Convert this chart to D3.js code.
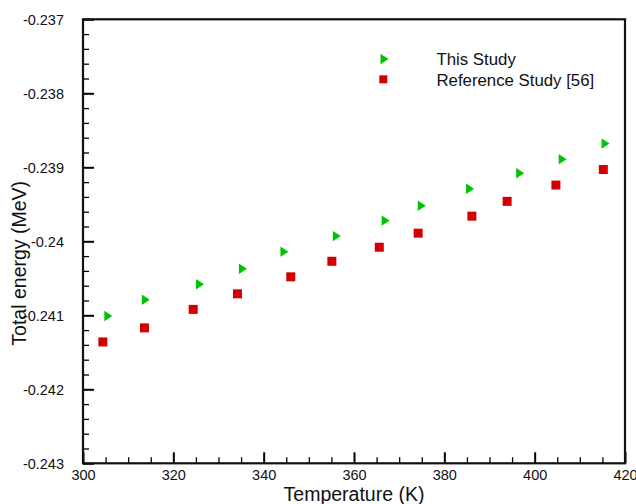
<!DOCTYPE html>
<html>
<head>
<meta charset="utf-8">
<script src="https://cdn.jsdelivr.net/npm/d3@7"></script>
<style>
  html, body { margin: 0; padding: 0; background: #fff; }
  svg { display: block; font-family: "Liberation Sans", Arial, sans-serif; }
</style>
</head>
<body>
<svg id="chart" width="636" height="504"></svg>
<script>
// Temperatures (K) and total energies (MeV)
const thisTemp = [305.6, 313.9, 325.9, 335.4, 344.6, 356.2, 367.0, 375.0, 385.7, 396.8, 406.2, 415.7];
const thisEnergy = [-0.24101, -0.24079, -0.24058, -0.24037, -0.24014, -0.23993, -0.23972, -0.23952, -0.23929, -0.23908, -0.23889, -0.23868];
const refTemp = [304.4, 313.6, 324.4, 334.2, 346.0, 355.1, 365.6, 374.2, 386.1, 393.9, 404.7, 415.2];
const refEnergy = [-0.24136, -0.24117, -0.24092, -0.24071, -0.24048, -0.24027, -0.24008, -0.23989, -0.23966, -0.23946, -0.23924, -0.23903];

const xMajor = [300, 320, 340, 360, 380, 400, 420];
const yMajor = [-0.243, -0.242, -0.241, -0.240, -0.239, -0.238, -0.237];
const yTickLabels = ["-0.243", "-0.242", "-0.241", "-0.24", "-0.239", "-0.238", "-0.237"];
const seriesNames = ["This Study", "Reference Study [56]"];

const svg = d3.select("#chart");
const plotLeft = 83, plotRight = 625, plotTop = 19.3, plotBottom = 463.3;

const x = d3.scaleLinear().domain([300, 420]).range([plotLeft, plotRight]);
const y = d3.scaleLinear().domain([-0.243, -0.237]).range([plotBottom, plotTop]);

const green = "#00c400", red = "#d40000";

// Minor tick positions
const xMinor = d3.range(300, 420.01, 5).filter(v => !xMajor.includes(Math.round(v)));
const yMinor = d3.range(0, 31).map(i => -0.243 + i * 0.0002)
  .filter(v => !yMajor.some(m => Math.abs(m - v) < 1e-9));

// Bottom axis (ticks point inward)
const gx = svg.append("g").attr("transform", `translate(0,${plotBottom})`);
gx.call(d3.axisBottom(x).tickValues(xMajor).tickSize(-11).tickPadding(16.7).tickFormat(d3.format("d")));
gx.append("g").call(d3.axisBottom(x).tickValues(xMinor).tickSize(-6).tickFormat(""));

// Left axis (ticks point inward)
const gy = svg.append("g").attr("transform", `translate(${plotLeft},0)`);
gy.call(d3.axisLeft(y).tickValues(yMajor).tickSize(-11).tickPadding(19)
  .tickFormat((d, i) => yTickLabels[i]));
gy.append("g").call(d3.axisLeft(y).tickValues(yMinor).tickSize(-6).tickFormat(""));

svg.selectAll(".domain").remove();
svg.selectAll(".tick line").attr("stroke", "#000").attr("stroke-width", 1.3);
svg.selectAll(".tick text").attr("fill", "#111").style("font-size", "14.5px");
gx.selectAll(".tick text").attr("dy", "0");
gy.selectAll(".tick text").attr("dy", "0.35em");
// Major ticks heavier than minor ones
gx.selectAll(":scope > .tick line").attr("stroke-width", 2);
gy.selectAll(":scope > .tick line").attr("stroke-width", 2);

// Frame
svg.append("rect")
  .attr("x", plotLeft).attr("y", plotTop)
  .attr("width", plotRight - plotLeft).attr("height", plotBottom - plotTop)
  .attr("fill", "none").attr("stroke", "#111").attr("stroke-width", 2.2);

// Axis titles
svg.append("text")
  .attr("x", (plotLeft + plotRight) / 2).attr("y", 501)
  .attr("text-anchor", "middle").style("font-size", "19.5px").attr("fill", "#111")
  .text("Temperature (K)");
svg.append("text")
  .attr("transform", `translate(26,${(plotTop + plotBottom) / 2 + 22}) rotate(-90)`)
  .attr("text-anchor", "middle").style("font-size", "19.5px").attr("fill", "#111")
  .text("Total energy (MeV)");

// Marker shapes
const tri = (cx, cy) => `M${cx - 4},${cy - 5.2} L${cx + 4},${cy} L${cx - 4},${cy + 5.2} Z`;
const sq = 9;

const thisData = thisTemp.map((t, i) => ({ t, e: thisEnergy[i] }));
const refData = refTemp.map((t, i) => ({ t, e: refEnergy[i] }));

svg.append("g").selectAll("path").data(thisData).join("path")
  .attr("d", d => tri(x(d.t), y(d.e)))
  .attr("fill", green);

svg.append("g").selectAll("rect").data(refData).join("rect")
  .attr("x", d => x(d.t) - sq / 2).attr("y", d => y(d.e) - sq / 2)
  .attr("width", sq).attr("height", sq)
  .attr("fill", red);

// Legend
const lg = svg.append("g");
lg.append("path").attr("d", tri(384.5, 59)).attr("fill", green);
lg.append("rect").attr("x", 383.3 - 4).attr("y", 79.3 - 4)
  .attr("width", 8).attr("height", 8).attr("fill", red);
lg.selectAll("text").data(seriesNames).join("text")
  .attr("x", 436.5).attr("y", (d, i) => 65 + i * 21)
  .style("font-size", "16.8px").attr("fill", "#111")
  .text(d => d);
</script>
</body>
</html>
